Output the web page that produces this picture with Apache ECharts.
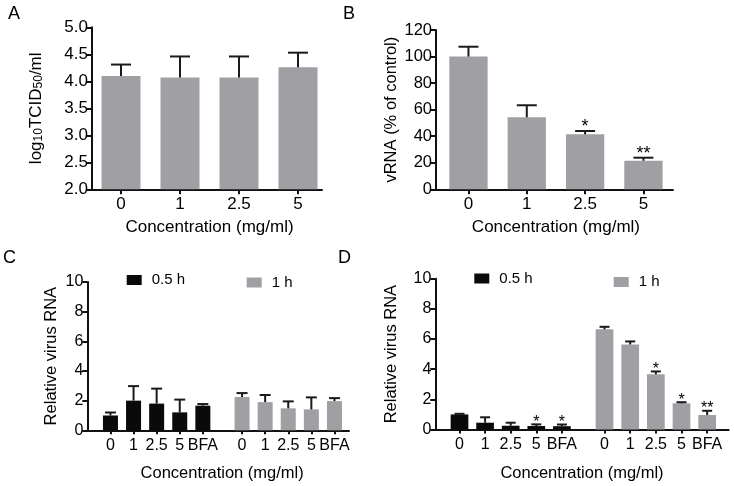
<!DOCTYPE html>
<html><head><meta charset="utf-8">
<script src="https://cdn.jsdelivr.net/npm/echarts@6/dist/echarts.min.js"></script>
<style>html,body{margin:0;padding:0;background:#fff}#c{width:734px;height:486px}</style>
</head><body><div id="c"></div>
<script>
// ---- data ----
const concAB = ['0', '1', '2.5', '5'];
const meanA = [4.10, 4.07, 4.07, 4.26];
const sdA = [0.21, 0.39, 0.39, 0.27];
const sigA = ['', '', '', ''];

const meanB = [100, 54.2, 41.4, 21.5];
const sdB = [7.4, 9.1, 2.5, 2.3];
const sigB = ['', '', '*', '**'];

const concCD = ['0', '1', '2.5', '5', 'BFA'];
const meanC05 = [1.0, 2.0, 1.8, 1.21, 1.66];
const sdC05 = [0.2, 0.98, 1.01, 0.86, 0.11];
const meanC1 = [2.24, 1.9, 1.48, 1.41, 1.97];
const sdC1 = [0.27, 0.48, 0.47, 0.81, 0.2];
const sigC = ['', '', '', '', ''];

const meanD05 = [1.0, 0.45, 0.25, 0.23, 0.22];
const sdD05 = [0.04, 0.36, 0.2, 0.11, 0.11];
const sigD05 = ['', '', '', '*', '*'];
const meanD1 = [6.64, 5.64, 3.66, 1.74, 0.96];
const sdD1 = [0.17, 0.2, 0.19, 0.07, 0.28];
const sigD1 = ['', '', '*', '*', '**'];

const ticksA = {min: 2, max: 5, interval: 0.5};
const ticksB = {min: 0, max: 120, interval: 20};
const ticksCD = {min: 0, max: 10, interval: 2};

// ---- style ----
const FONT = 'Liberation Sans, Arial, sans-serif';
const GRAY = '#a0a0a4';
const BLACK = '#0a0a0a';
const AX = '#111';

const chart = echarts.init(document.getElementById('c'), null, {renderer: 'canvas'});

function frameX() {
  return {type: 'value', min: 0, max: 1, axisLine: {show: true, lineStyle: {color: AX, width: 2}},
    axisTick: {show: false}, axisLabel: {show: false}, splitLine: {show: false}};
}
function frameY(t, name, gap, fs, extra) {
  return Object.assign({type: 'value', min: t.min, max: t.max, interval: t.interval,
    axisLine: {show: true, lineStyle: {color: AX, width: 2}},
    axisTick: {show: true, length: 5, lineStyle: {color: AX, width: 2}},
    axisLabel: {color: '#000', fontSize: fs, fontFamily: FONT, margin: 4},
    splitLine: {show: false},
    name: name, nameLocation: 'middle', nameGap: gap,
    nameTextStyle: {color: '#000', fontSize: 16.5, fontFamily: FONT}}, extra || {});
}
function barX(cats, fs, name, gap, tickLen) {
  const o = {type: 'category', data: cats, axisLine: {show: false},
    axisTick: {show: true, alignWithLabel: true, length: tickLen, lineStyle: {color: AX, width: 2}},
    axisLabel: {interval: 0, color: '#000', fontSize: fs, fontFamily: FONT, margin: 7},
    splitLine: {show: false}};
  if (name) {
    o.name = name; o.nameLocation = 'middle'; o.nameGap = gap;
    o.nameTextStyle = {color: '#000', fontSize: 17, fontFamily: FONT};
  }
  return o;
}
function hiddenY(t) {
  return {type: 'value', min: t.min, max: t.max, show: false, splitLine: {show: false}};
}
function errSeries(name, idx, means, sds, sig, capW, starFs, starOff) {
  return {
    type: 'custom', name: name + ' err', xAxisIndex: idx, yAxisIndex: idx, z: 5,
    data: means.map((m, i) => [i, m, m + sds[i]]),
    renderItem: function (params, api) {
      const p0 = api.coord([api.value(0), api.value(1)]);
      const p1 = api.coord([api.value(0), api.value(2)]);
      const s = sig[params.dataIndex];
      const st = {stroke: '#1a1a1a', lineWidth: 2};
      const ch = [
        {type: 'line', shape: {x1: p0[0], y1: p0[1], x2: p1[0], y2: p1[1]}, style: st},
        {type: 'line', shape: {x1: p1[0] - capW / 2, y1: p1[1], x2: p1[0] + capW / 2, y2: p1[1]}, style: st}
      ];
      if (s) {
        ch.push({type: 'text', style: {text: s, x: p1[0], y: p1[1] - starOff, align: 'center',
          verticalAlign: 'middle', fontSize: starFs, fontFamily: FONT, fill: '#000'}});
      }
      return {type: 'group', children: ch};
    }
  };
}
function barSeries(name, idx, means, color, bw) {
  return {type: 'bar', name: name, xAxisIndex: idx, yAxisIndex: idx, data: means,
    barWidth: bw, itemStyle: {color: color}, z: 2, silent: true};
}

const grids = [
  {left: 92, top: 27.3, width: 230, height: 162},      // 0 A frame
  {left: 91.5, top: 27.3, width: 236, height: 162},    // 1 A bars
  {left: 436, top: 30, width: 237, height: 159.3},     // 2 B frame
  {left: 439.3, top: 30, width: 233.3, height: 159.3}, // 3 B bars
  {left: 87.3, top: 282, width: 261.7, height: 148.3}, // 4 C frame
  {left: 98.9, top: 282, width: 115.5, height: 148.3}, // 5 C left
  {left: 230.5, top: 282, width: 115.5, height: 148.3},// 6 C right
  {left: 435.3, top: 278.7, width: 293.4, height: 150.8}, // 7 D frame
  {left: 446.7, top: 278.7, width: 128, height: 150.8},   // 8 D left
  {left: 591.7, top: 278.7, width: 128.3, height: 150.8}  // 9 D right
];

const titleStyle = {color: '#000', fontSize: 16.5, fontFamily: FONT};
const xAxes = [
  frameX(),
  barX(concAB, 17, 'Concentration (mg/ml)', 30, 5),
  frameX(),
  barX(concAB, 17, 'Concentration (mg/ml)', 30, 5),
  Object.assign(frameX(), {name: 'Concentration (mg/ml)', nameLocation: 'middle', nameGap: 35,
    nameTextStyle: Object.assign({padding: [0, 0, 0, 8]}, titleStyle)}),
  barX(concCD, 16, null, 0, 4),
  barX(concCD, 16, null, 0, 4),
  Object.assign(frameX(), {name: 'Concentration (mg/ml)', nameLocation: 'middle', nameGap: 35,
    nameTextStyle: titleStyle}),
  barX(concCD, 16, null, 0, 4),
  barX(concCD, 16, null, 0, 4)
];

const yAxes = [
  frameY(ticksA, 'log{s|10}TCID{s|50}/ml', 47, 17, {
    axisLabel: {color: '#000', fontSize: 17, fontFamily: FONT, margin: 4, formatter: v => v.toFixed(1)},
    nameTextStyle: {color: '#000', fontSize: 17, fontFamily: FONT,
      rich: {s: {fontSize: 12, fontFamily: FONT, color: '#000', verticalAlign: 'bottom', lineHeight: 12}}}
  }),
  hiddenY(ticksA),
  frameY(ticksB, 'vRNA (% of control)', 36, 16.5),
  hiddenY(ticksB),
  frameY(ticksCD, 'Relative virus RNA', 27, 16),
  hiddenY(ticksCD),
  hiddenY(ticksCD),
  frameY(ticksCD, 'Relative virus RNA', 35, 16),
  hiddenY(ticksCD),
  hiddenY(ticksCD)
];
xAxes.forEach((a, i) => a.gridIndex = i);
yAxes.forEach((a, i) => a.gridIndex = i);

const series = [
  barSeries('A', 1, meanA, GRAY, 39),
  errSeries('A', 1, meanA, sdA, sigA, 20, 16, 4),
  barSeries('B', 3, meanB, GRAY, 38.3),
  errSeries('B', 3, meanB, sdB, sigB, 20, 18, 4),
  barSeries('0.5 h', 5, meanC05, BLACK, 15),
  errSeries('C05', 5, meanC05, sdC05, sigC, 11, 16, 3),
  barSeries('1 h', 6, meanC1, GRAY, 15),
  errSeries('C1', 6, meanC1, sdC1, sigC, 11, 16, 3),
  barSeries('0.5 h', 8, meanD05, BLACK, 17.7),
  errSeries('D05', 8, meanD05, sdD05, sigD05, 10, 16, 2),
  barSeries('1 h', 9, meanD1, GRAY, 17.7),
  errSeries('D1', 9, meanD1, sdD1, sigD1, 10, 16, 2)
];

function leg(name, left, top) {
  return {data: [name], left: left, top: top, padding: 0, itemWidth: 15, itemHeight: 10,
    icon: 'rect', selectedMode: false,
    textStyle: {color: '#000', fontSize: 15, fontFamily: FONT, padding: [0, 0, 0, 5]}};
}

const letters = [['A', 8, 5], ['B', 343, 5], ['C', 3, 249], ['D', 338, 249]];

chart.setOption({
  animation: false,
  backgroundColor: '#fff',
  textStyle: {fontFamily: FONT},
  grid: grids.map(g => Object.assign({containLabel: false}, g)),
  xAxis: xAxes,
  yAxis: yAxes,
  series: series,
  legend: [leg('0.5 h', 126.7, 272.5), leg('1 h', 246.7, 275), leg('0.5 h', 474.3, 271), leg('1 h', 613.7, 274.5)],
  graphic: letters.map(l => ({type: 'text', left: l[1], top: l[2],
    style: {text: l[0], fontSize: 18, fontFamily: FONT, fill: '#000'}}))
});
</script></body></html>
